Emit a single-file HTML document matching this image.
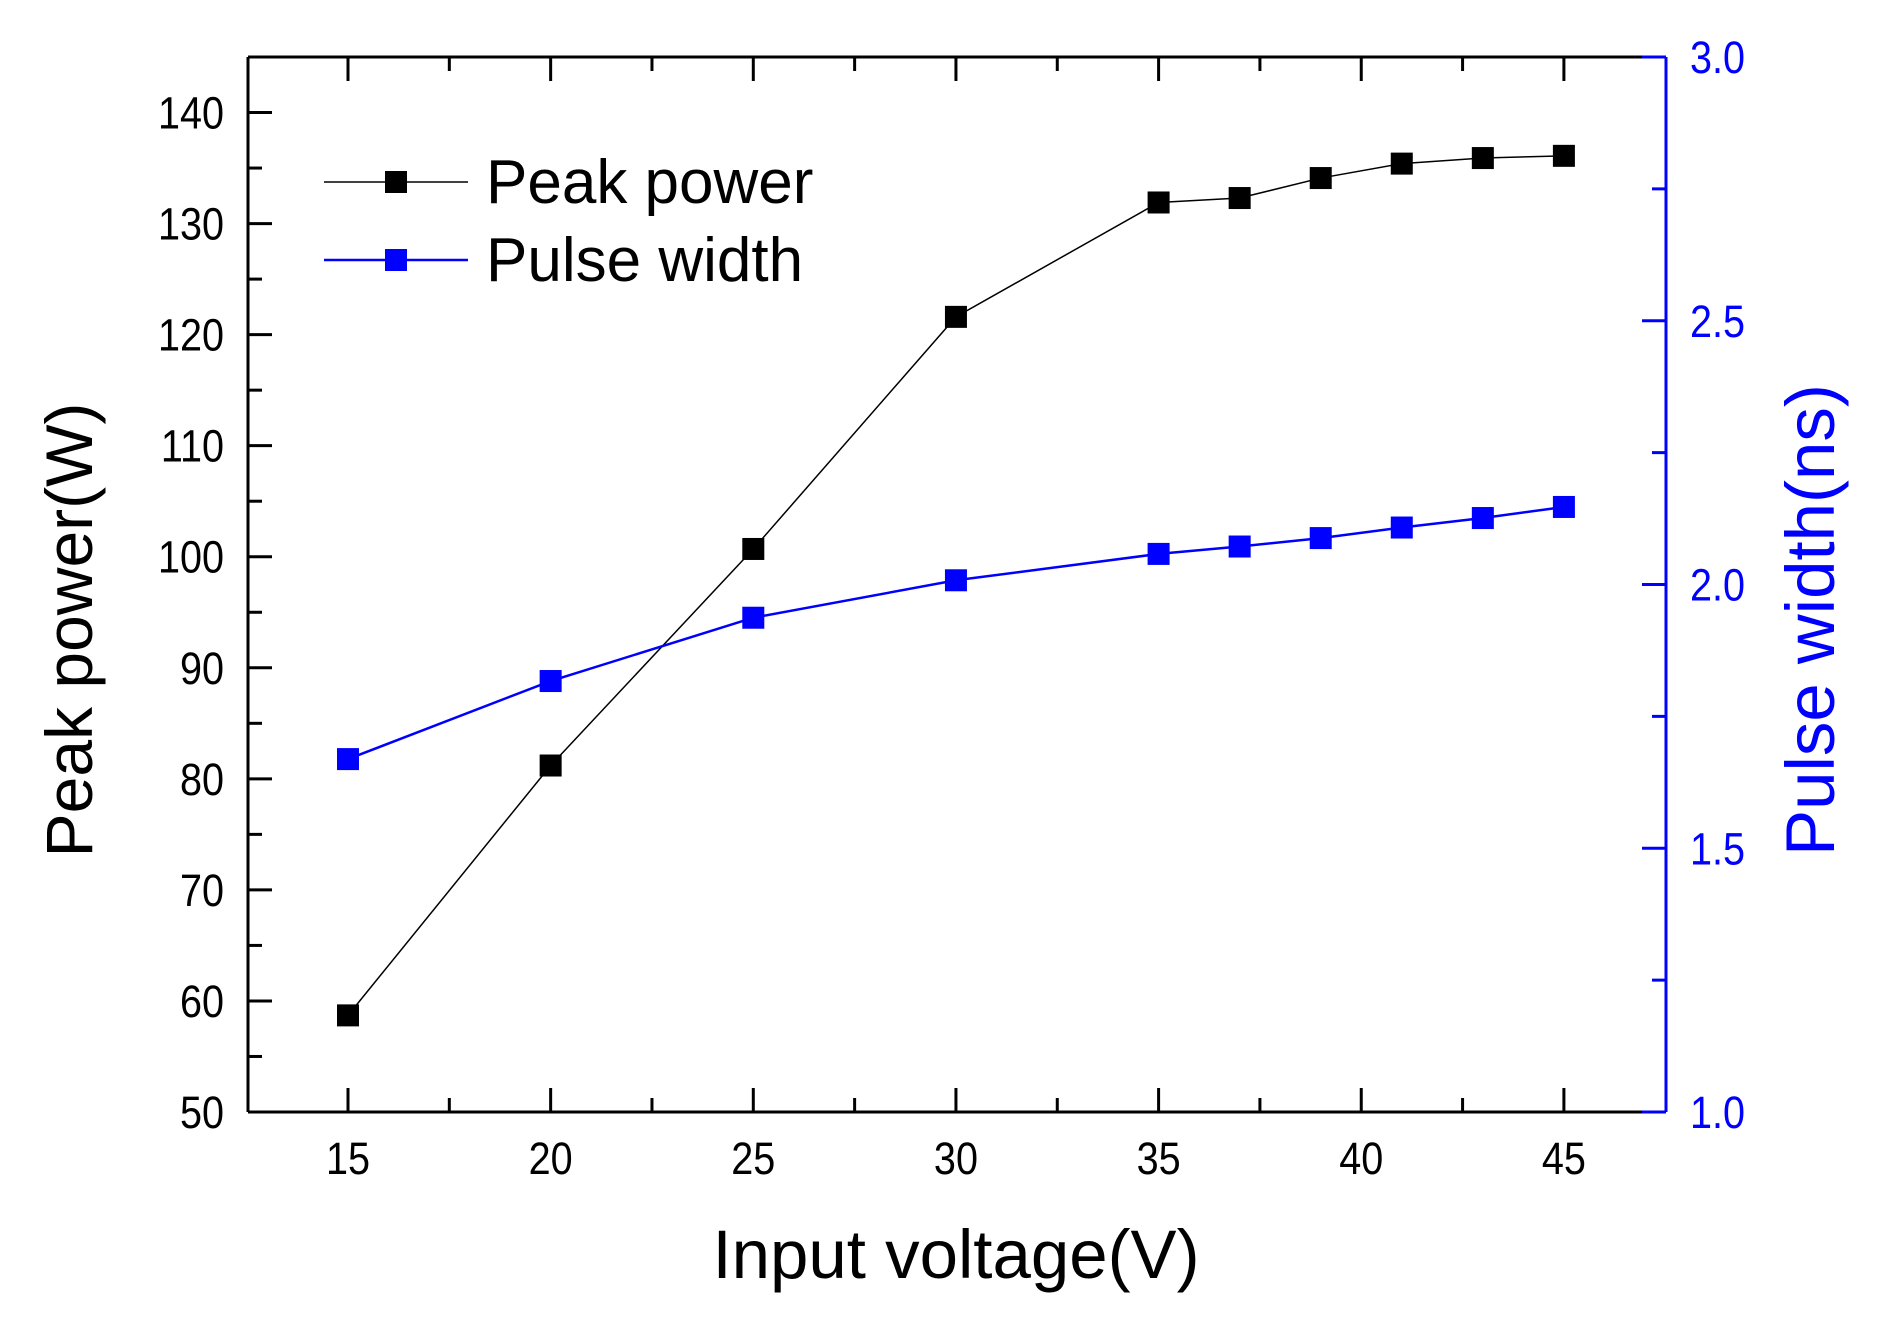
<!DOCTYPE html>
<html><head><meta charset="utf-8"><style>
html,body{margin:0;padding:0;background:#fff;}
svg{display:block;font-family:"Liberation Sans",Arial,sans-serif;}
</style></head><body>
<svg id="s" width="1881" height="1323" viewBox="0 0 1881 1323" xmlns="http://www.w3.org/2000/svg"></svg>
<script>
const s=document.getElementById('s');
let h='';
const L=248,R=1666,T=57,B=1112;
const X=v=>348+(v-15)*40.53;
const YL=v=>B-(v-50)*(B-T)/95;
const YR=v=>B-(v-1)*(B-T)/2;
const lab=(x,y,t,anchor,fill)=>`<text transform="translate(${x},${y}) scale(0.88,1)" font-size="45" text-anchor="${anchor}" fill="${fill}">${t}</text>`;
h+=`<line x1="${L}" y1="${T}" x2="${R}" y2="${T}" stroke="#000" stroke-width="3"/>`;
h+=`<line x1="${L}" y1="${B}" x2="${R}" y2="${B}" stroke="#000" stroke-width="3"/>`;
h+=`<line x1="${L}" y1="${T}" x2="${L}" y2="${B}" stroke="#000" stroke-width="3"/>`;
h+=`<line x1="${R}" y1="${T}" x2="${R}" y2="${B}" stroke="#00f" stroke-width="3"/>`;
for(let v=15;v<=45;v+=2.5){const maj=(v%5===0);const x=X(v);const l=maj?24:14;
h+=`<line x1="${x}" y1="${B}" x2="${x}" y2="${B-l}" stroke="#000" stroke-width="3"/>`;
h+=`<line x1="${x}" y1="${T}" x2="${x}" y2="${T+l}" stroke="#000" stroke-width="3"/>`;
if(maj)h+=lab(x,B+62,v,'middle','#000');}
for(let v=50;v<=145;v+=5){const maj=(v%10===0);const y=YL(v);const l=maj?24:14;
h+=`<line x1="${L}" y1="${y}" x2="${L+l}" y2="${y}" stroke="#000" stroke-width="3"/>`;
if(maj&&v<=140)h+=lab(L-24,y+16,v,'end','#000');}
for(let i=0;i<=8;i++){const v=1+i*0.25;const maj=(i%2===0);const y=YR(v);const l=maj?24:14;
h+=`<line x1="${R}" y1="${y}" x2="${R-l}" y2="${y}" stroke="#00f" stroke-width="3"/>`;
if(maj)h+=lab(R+24,y+16,v.toFixed(1),'start','#00f');}
const xs=[15,20,25,30,35,37,39,41,43,45];
const pp=[58.7,81.2,100.7,121.6,131.9,132.3,134.1,135.4,135.9,136.1];
const pw=[1.669,1.817,1.937,2.008,2.058,2.072,2.088,2.108,2.126,2.147];
h+=`<polyline fill="none" stroke="#000" stroke-width="1.5" points="${xs.map((v,i)=>X(v)+','+YL(pp[i])).join(' ')}"/>`;
h+=`<polyline fill="none" stroke="#00f" stroke-width="2.5" points="${xs.map((v,i)=>X(v)+','+YR(pw[i])).join(' ')}"/>`;
xs.forEach((v,i)=>{h+=`<rect x="${X(v)-11}" y="${YL(pp[i])-11}" width="22" height="22" fill="#000"/>`;
h+=`<rect x="${X(v)-11}" y="${YR(pw[i])-11}" width="22" height="22" fill="#00f"/>`;});
h+=`<line x1="324" y1="182" x2="468" y2="182" stroke="#000" stroke-width="1.5"/><rect x="385" y="171" width="22" height="22" fill="#000"/>`;
h+=`<text x="486" y="203" font-size="62">Peak power</text>`;
h+=`<line x1="324" y1="260" x2="468" y2="260" stroke="#00f" stroke-width="2.5"/><rect x="385" y="249" width="22" height="22" fill="#00f"/>`;
h+=`<text x="486" y="281" font-size="62">Pulse width</text>`;
h+=`<text x="956" y="1278" font-size="69" text-anchor="middle">Input voltage(V)</text>`;
h+=`<text transform="translate(92,630) rotate(-90)" font-size="66" text-anchor="middle">Peak power(W)</text>`;
h+=`<text transform="translate(1834,620) rotate(-90)" font-size="69" fill="#00f" text-anchor="middle">Pulse width(ns)</text>`;
s.innerHTML=h;
</script>
</body></html>
